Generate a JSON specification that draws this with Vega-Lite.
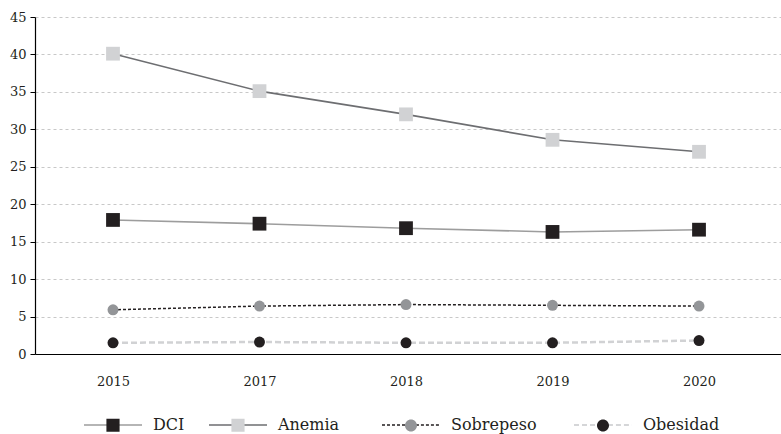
{
  "$schema": "https://vega.github.io/schema/vega-lite/v6.json",
  "width": 746,
  "height": 337,
  "autosize": {"type": "none"},
  "padding": {"left": 35, "top": 17, "right": 0, "bottom": 80},
  "background": "white",
  "config": {
    "view": {"stroke": null},
    "font": "DejaVu Serif",
    "axis": {"labelFont": "DejaVu Serif", "labelColor": "#231f20", "labelFontSize": 13},
    "legend": {"labelFont": "DejaVu Serif"}
  },
  "data": {
    "values": [
      {"anio": "2015", "serie": "DCI", "valor": 17.9},
      {"anio": "2017", "serie": "DCI", "valor": 17.4},
      {"anio": "2018", "serie": "DCI", "valor": 16.8},
      {"anio": "2019", "serie": "DCI", "valor": 16.3},
      {"anio": "2020", "serie": "DCI", "valor": 16.6},
      {"anio": "2015", "serie": "Anemia", "valor": 40.1},
      {"anio": "2017", "serie": "Anemia", "valor": 35.1},
      {"anio": "2018", "serie": "Anemia", "valor": 32.0},
      {"anio": "2019", "serie": "Anemia", "valor": 28.6},
      {"anio": "2020", "serie": "Anemia", "valor": 27.0},
      {"anio": "2015", "serie": "Sobrepeso", "valor": 5.9},
      {"anio": "2017", "serie": "Sobrepeso", "valor": 6.4},
      {"anio": "2018", "serie": "Sobrepeso", "valor": 6.6},
      {"anio": "2019", "serie": "Sobrepeso", "valor": 6.5},
      {"anio": "2020", "serie": "Sobrepeso", "valor": 6.4},
      {"anio": "2015", "serie": "Obesidad", "valor": 1.5},
      {"anio": "2017", "serie": "Obesidad", "valor": 1.6},
      {"anio": "2018", "serie": "Obesidad", "valor": 1.5},
      {"anio": "2019", "serie": "Obesidad", "valor": 1.5},
      {"anio": "2020", "serie": "Obesidad", "valor": 1.8}
    ]
  },
  "encoding": {
    "x": {
      "field": "anio", "type": "ordinal", "title": null,
      "scale": {"type": "point", "padding": 0.546, "align": 0.4875},
      "axis": {"labelAngle": 0, "ticks": false, "domainColor": "#000000", "domainWidth": 1.2, "labelPadding": 21, "grid": false}
    },
    "y": {
      "field": "valor", "type": "quantitative", "title": null,
      "scale": {"domain": [0, 45], "nice": false, "zero": true},
      "axis": {
        "values": [0, 5, 10, 15, 20, 25, 30, 35, 40, 45],
        "domainColor": "#000000", "domainWidth": 1.2,
        "tickColor": "#000000", "tickSize": 5, "labelPadding": 4,
        "grid": true, "gridColor": "#c8c8c8", "gridDash": [3, 3], "gridWidth": 1
      }
    }
  },
  "layer": [
    {
      "transform": [{"filter": "datum.serie === 'DCI'"}],
      "mark": {"type": "line", "color": "#9d9d9d", "strokeWidth": 1.6}
    },
    {
      "transform": [{"filter": "datum.serie === 'Anemia'"}],
      "mark": {"type": "line", "color": "#6d6e71", "strokeWidth": 1.6}
    },
    {
      "transform": [{"filter": "datum.serie === 'Sobrepeso'"}],
      "mark": {"type": "line", "color": "#231f20", "strokeWidth": 1.5, "strokeDash": [3, 2]}
    },
    {
      "transform": [{"filter": "datum.serie === 'Obesidad'"}],
      "mark": {"type": "line", "color": "#d1d2d4", "strokeWidth": 2.5, "strokeDash": [6, 3]}
    },
    {
      "transform": [{"filter": "false"}],
      "mark": {"type": "line", "strokeWidth": 1.5},
      "encoding": {
        "stroke": {
          "field": "serie", "type": "nominal",
          "scale": {"domain": ["DCI ", "Anemia ", "Sobrepeso ", "Obesidad "], "range": ["#9d9d9d", "#6d6e71", "#231f20", "#c8c9cb"]},
          "legend": {
            "title": null,
            "orient": "none",
            "legendX": 48,
            "legendY": 378,
            "direction": "horizontal",
            "padding": 0,
            "symbolSize": 3364,
            "symbolOpacity": 1,
            "symbolStrokeWidth": 1.5,
            "labelOffset": 10,
            "columnPadding": 18,
            "labelFontSize": 16,
            "labelExpr": "''",
            "encode": {
              "symbols": {
                "update": {
                  "shape": {"signal": "datum.value === 'DCI ' ? 'M-1,0H-0.17M0.17,0H1M2.4483,0L2.4483,0' : datum.value === 'Anemia ' ? 'M-1,0H-0.17M0.17,0H1M4.1379,0L4.1379,0' : datum.value === 'Sobrepeso ' ? 'M-1,0H-0.17M0.17,0H1M4.7931,0L4.7931,0' : 'M-1,0H-0.17M0.17,0H1'"}
                }
              }
            }
          }
        },
        "strokeDash": {
          "field": "serie", "type": "nominal",
          "scale": {"domain": ["DCI ", "Anemia ", "Sobrepeso ", "Obesidad "], "range": [[1, 0], [1, 0], [3, 2], [5, 3]]},
          "legend": {
            "title": null,
            "orient": "none",
            "legendX": 48,
            "legendY": 378,
            "direction": "horizontal",
            "padding": 0,
            "symbolSize": 3364,
            "symbolOpacity": 1,
            "symbolStrokeWidth": 1.5,
            "labelOffset": 10,
            "columnPadding": 18,
            "labelFontSize": 16,
            "labelExpr": "''"
          }
        }
      }
    },
    {
      "transform": [{"filter": "datum.serie === 'DCI' || datum.serie === 'Anemia'"}],
      "mark": {"type": "point", "shape": "square", "filled": true, "size": 190, "opacity": 1, "strokeWidth": 0},
      "encoding": {
        "fill": {
          "field": "serie", "type": "nominal",
          "scale": {"domain": ["DCI", "Anemia", "Sobrepeso", "Obesidad"], "range": ["#231f20", "#d1d2d4", "#939598", "#231f20"]},
          "legend": {
            "title": null,
            "orient": "none",
            "legendX": 48,
            "legendY": 378,
            "direction": "horizontal",
            "padding": 0,
            "symbolSize": 3364,
            "symbolOpacity": 1,
            "symbolStrokeWidth": 1.5,
            "symbolStrokeColor": "transparent",
            "labelOffset": 10,
            "columnPadding": 18,
            "labelFontSize": 16,
            "labelColor": "#231f20",
            "encode": {
              "symbols": {
                "update": {
                  "shape": {"signal": "datum.value === 'DCI' ? 'M-1,0L-1,0M-0.227,-0.227H0.227V0.227H-0.227ZM2.4483,0L2.4483,0' : datum.value === 'Anemia' ? 'M-1,0L-1,0M-0.227,-0.227H0.227V0.227H-0.227ZM4.1379,0L4.1379,0' : datum.value === 'Sobrepeso' ? 'M-1,0L-1,0M0.207,0A0.207,0.207,0,1,1,-0.207,0A0.207,0.207,0,1,1,0.207,0ZM4.7931,0L4.7931,0' : 'M-1,0L-1,0M0.207,0A0.207,0.207,0,1,1,-0.207,0A0.207,0.207,0,1,1,0.207,0Z'"},
                  "stroke": {"value": "transparent"}
                }
              }
            }
          }
        }
      }
    },
    {
      "transform": [{"filter": "datum.serie === 'Sobrepeso' || datum.serie === 'Obesidad'"}],
      "mark": {"type": "point", "shape": "circle", "filled": true, "size": 120, "opacity": 1, "strokeWidth": 0},
      "encoding": {
        "fill": {"field": "serie", "type": "nominal"}
      }
    }
  ]
}
